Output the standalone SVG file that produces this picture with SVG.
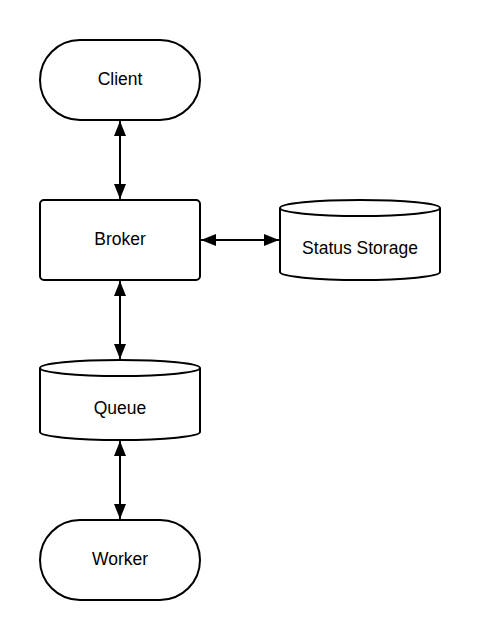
<svg xmlns="http://www.w3.org/2000/svg" width="480" height="640" viewBox="0 0 480 640">
<style>
.n{fill:#fff;stroke:#000;stroke-width:2}
.t{font-family:"Liberation Sans",Arial,sans-serif;font-size:17.5px;fill:#000;text-anchor:middle;dominant-baseline:central}
.c{stroke:#000;stroke-width:2;fill:none;marker-start:url(#a);marker-end:url(#a)}
</style>
<defs>
<marker id="a" viewBox="0 0 15 12" refX="15" refY="6" markerWidth="15" markerHeight="12" markerUnits="userSpaceOnUse" orient="auto-start-reverse">
<path d="M0,0 L15,6 L0,12 z" fill="#000"/>
</marker>
</defs>
<rect width="480" height="640" fill="#fff"/>
<g id="connectors">
<line class="c" x1="120" y1="121" x2="120" y2="199"/>
<line class="c" x1="201" y1="240" x2="279" y2="240"/>
<line class="c" x1="120" y1="281" x2="120" y2="359"/>
<line class="c" x1="120" y1="441" x2="120" y2="519"/>
</g>
<g id="client">
<rect class="n" x="40" y="40" width="160" height="80" rx="40" ry="40"/>
<text class="t" x="120" y="79">Client</text>
</g>
<g id="broker">
<rect class="n" x="40" y="200" width="160" height="80" rx="4" ry="4"/>
<text class="t" x="120" y="239">Broker</text>
</g>
<g id="status-storage">
<path class="n" d="M280,208 a80,8 0 0,1 160,0 v64 a80,8 0 0,1 -160,0 z"/>
<path class="n" d="M280,208 a80,8 0 0,0 160,0"/>
<text class="t" x="360" y="248">Status Storage</text>
</g>
<g id="queue">
<path class="n" d="M40,368 a80,8 0 0,1 160,0 v64 a80,8 0 0,1 -160,0 z"/>
<path class="n" d="M40,368 a80,8 0 0,0 160,0"/>
<text class="t" x="120" y="408">Queue</text>
</g>
<g id="worker">
<rect class="n" x="40" y="520" width="160" height="80" rx="40" ry="40"/>
<text class="t" x="120" y="559">Worker</text>
</g>
</svg>
